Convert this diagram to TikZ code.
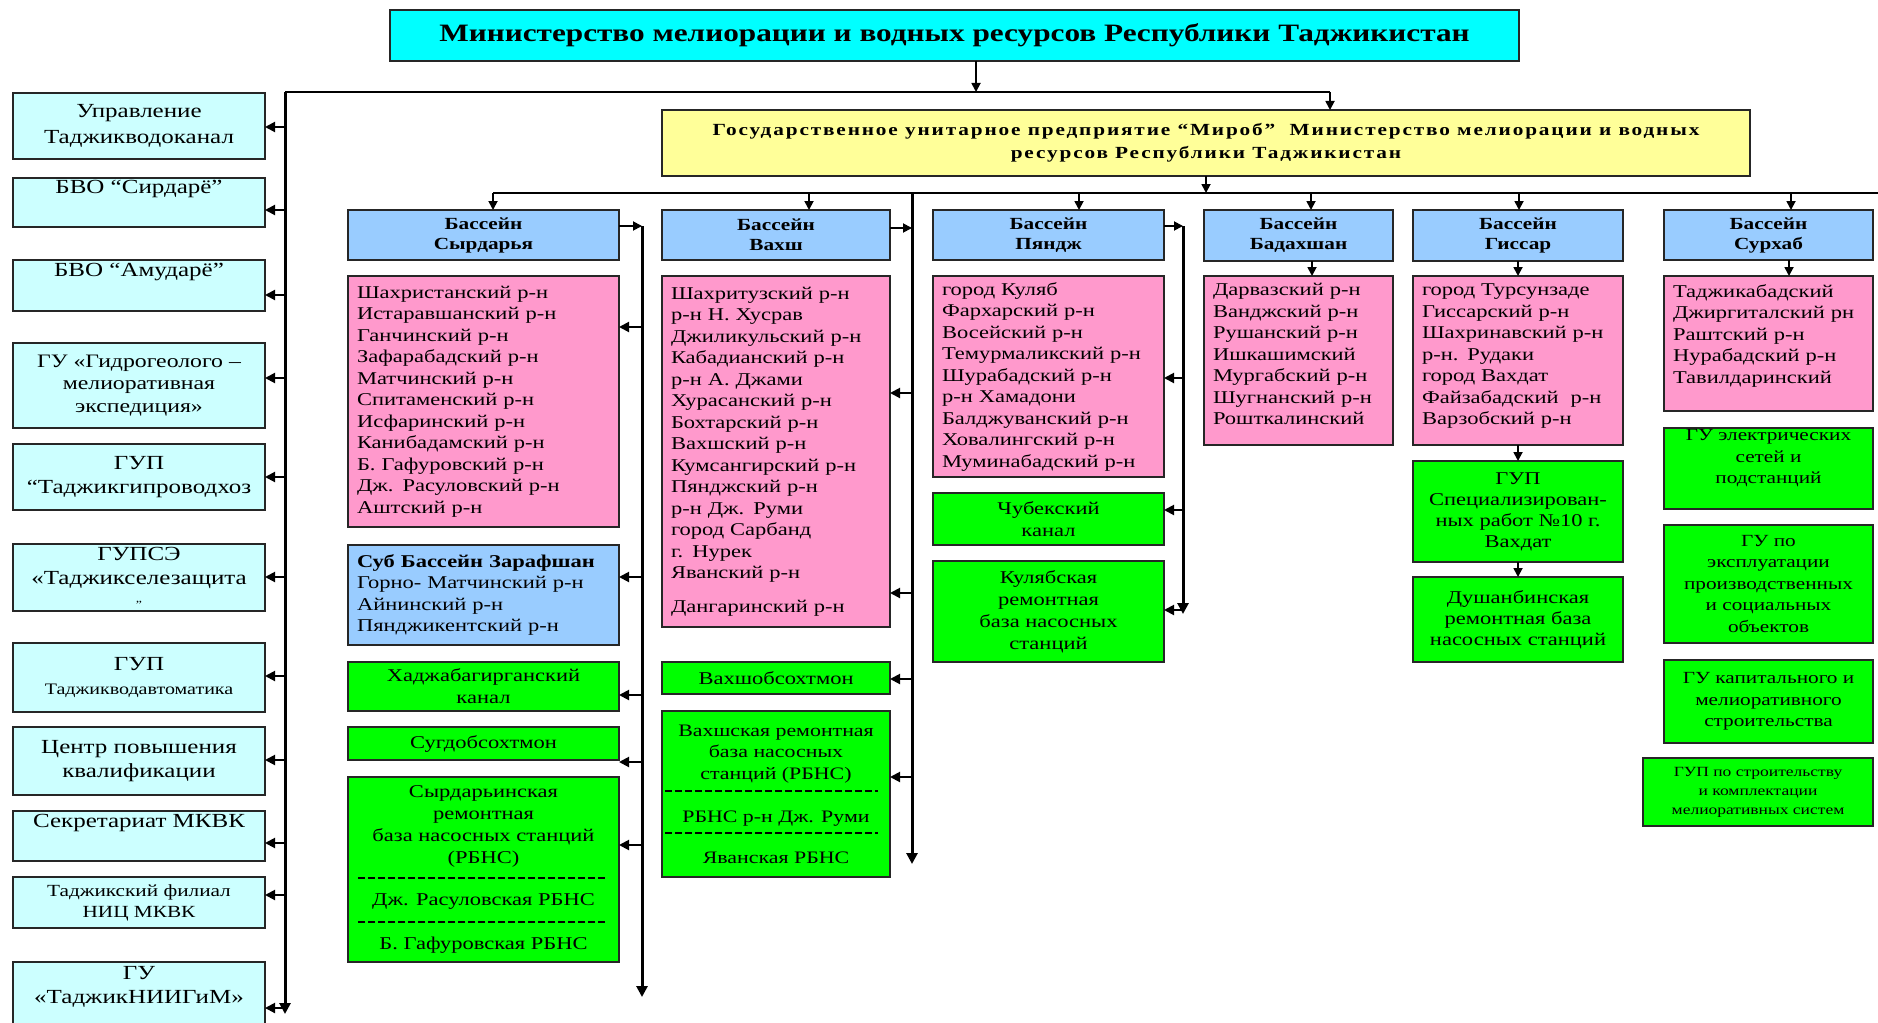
\documentclass[tikz,border=0pt]{standalone}
\usepackage{fontspec}
\setmainfont{Liberation Serif}[FakeStretch=1.25]
\usetikzlibrary{arrows.meta}
\definecolor{titlecyan}{HTML}{00FFFF}
\definecolor{lcyan}{HTML}{CCFFFF}
\definecolor{yelb}{HTML}{FFFF99}
\definecolor{bblue}{HTML}{99CCFF}
\definecolor{pinkb}{HTML}{FF99CC}
\definecolor{greenb}{HTML}{00FF00}
\newcommand\fsz[2]{\fontsize{#1}{#2}\selectfont}
\newcommand\bx[7]{%
  \pgfmathsetmacro\BXw{#5-#3}\pgfmathsetmacro\BXh{#6-#4}%
  \pgfmathsetmacro\BXt{#5-#3-18}%
  \pgfmathsetmacro\BXx{(#3+#5)/2}\pgfmathsetmacro\BXy{(#4+#6)/2}%
  \node[#2, minimum width=\BXw pt, minimum height=\BXh pt] (#1) at (\BXx,\BXy) {#7};}
\tikzset{
  boxb/.style={draw=black!85, line width=1.6pt, inner sep=0pt, outer sep=0pt},
  titlebox/.style={boxb, fill=titlecyan, font=\bfseries\fsz{25}{29}},
  ybox/.style={boxb, fill=yelb, align=center, font=\bfseries\fsz{17}{23}\addfontfeatures{LetterSpace=11}},
  lbox/.style={boxb, fill=lcyan, align=center, font=\fsz{20}{24}},
  basin/.style={boxb, fill=bblue, align=center, font=\bfseries\fsz{17}{20}},
  plist/.style={boxb, fill=pinkb, align=left, text width=\BXt pt, font=\fsz{18}{21.5}},
  sublist/.style={plist, fill=bblue},
  gbox/.style={boxb, fill=greenb, align=center, font=\fsz{18}{22}},
  arr/.style={line width=1.8pt, -{Triangle[length=9pt,width=9pt]}},
  tap/.style={line width=2pt, -{Triangle[length=10pt,width=10pt]}},
  busa/.style={line width=3pt, -{Triangle[length=11pt,width=11pt]}},
  thinbus/.style={line width=2pt},
  sepl/.style={line width=1.2pt, dash pattern=on 7pt off 3pt}
}
\begin{document}
\begin{tikzpicture}[x=1pt, y=-1pt]
\useasboundingbox[fill=white] (0,0) rectangle (1878,1022);

% top level
\bx{min}{titlebox}{390}{10}{1519}{61}{Министерство мелиорации и водных ресурсов Республики Таджикистан}
\bx{gup}{ybox}{662}{110}{1750}{176}{Государственное унитарное предприятие “Мироб”~ Министерство мелиорации и водных\\ресурсов Республики Таджикистан}

% left column
\bx{L1}{lbox, font=\fsz{20}{26}}{13}{93}{265}{159}{Управление\\Таджикводоканал}
\bx{L2}{lbox}{13}{178}{265}{227}{БВО “Сирдарё”\\\strut}
\bx{L3}{lbox}{13}{260}{265}{311}{БВО “Амударё”\\\strut}
\bx{L4}{lbox, font=\fsz{19}{22.5}}{13}{343}{265}{428}{ГУ «Гидрогеолого –\\мелиоративная\\экспедиция»}
\bx{L5}{lbox}{13}{444}{265}{510}{ГУП\\“Таджикгипроводхоз}
\bx{L6}{lbox}{13}{544}{265}{611}{ГУПСЭ\\«Таджикселезащита\\{\fsz{11}{11}”}}
\bx{L7}{lbox}{13}{643}{265}{712}{ГУП\\{\fsz{16}{20}Таджикводавтоматика}}
\bx{L8}{lbox}{13}{727}{265}{795}{Центр повышения\\квалификации}
\bx{L9}{lbox}{13}{811}{265}{861}{Секретариат МКВК\\\strut}
\bx{L10}{lbox, font=\fsz{17}{21}}{13}{877}{265}{928}{Таджикский филиал\\НИЦ МКВК}
\bx{L11}{lbox}{13}{962}{265}{1040}{ГУ\\«ТаджикНИИГиМ»\\\strut}

% basins
\bx{B1}{basin}{348}{210}{619}{260}{Бассейн\\Сырдарья}
\bx{B2}{basin}{662}{210}{890}{260}{Бассейн\\Вахш}
\bx{B3}{basin}{933}{210}{1164}{260}{Бассейн\\Пяндж}
\bx{B4}{basin}{1204}{210}{1393}{261}{Бассейн\\Бадахшан}
\bx{B5}{basin}{1413}{210}{1623}{261}{Бассейн\\Гиссар}
\bx{B6}{basin}{1664}{210}{1873}{260}{Бассейн\\Сурхаб}

% district lists
\bx{P1}{plist}{348}{276}{619}{527}{Шахристанский р-н\\Истаравшанский р-н\\Ганчинский р-н\\Зафарабадский р-н\\Матчинский р-н\\Спитаменский р-н\\Исфаринский р-н\\Канибадамский р-н\\Б. Гафуровский р-н\\Дж. Расуловский р-н\\Аштский р-н}
\bx{P2}{plist}{662}{276}{890}{627}{Шахритузский р-н\\р-н Н. Хусрав\\Джиликульский р-н\\Кабадианский р-н\\р-н А. Джами\\Хурасанский р-н\\Бохтарский р-н\\Вахшский р-н\\Кумсангирский р-н\\Пянджский р-н\\р-н Дж. Руми\\город Сарбанд\\г. Нурек\\Яванский р-н\\[12pt]Дангаринский р-н}
\bx{P3}{plist}{933}{276}{1164}{477}{город Куляб\\Фархарский р-н\\Восейский р-н\\Темурмаликский р-н\\Шурабадский р-н\\р-н Хамадони\\Балджуванский р-н\\Ховалингский р-н\\Муминабадский р-н}
\bx{P4}{plist}{1204}{276}{1393}{445}{Дарвазский р-н\\Ванджский р-н\\Рушанский р-н\\Ишкашимский\\Мургабский р-н\\Шугнанский р-н\\Рошткалинский\\[-15.5pt]\strut}
\bx{P5}{plist}{1413}{276}{1623}{445}{город Турсунзаде\\Гиссарский р-н\\Шахринавский р-н\\р-н. Рудаки\\город Вахдат\\Файзабадский~ р-н\\Варзобский р-н\\[-15.5pt]\strut}
\bx{P6}{plist}{1664}{276}{1873}{411}{Таджикабадский\\Джиргиталский рн\\Раштский р-н\\Нурабадский р-н\\Тавилдаринский\\[-8.5pt]\strut}
\bx{S1}{sublist}{348}{545}{619}{645}{\textbf{Суб Бассейн Зарафшан}\\Горно- Матчинский р-н\\Айнинский р-н\\Пянджикентский р-н}

% green units
\bx{G1}{gbox}{348}{662}{619}{711}{Хаджабагирганский\\канал}
\bx{G2}{gbox}{348}{727}{619}{760}{Сугдобсохтмон}
\bx{G3}{gbox}{348}{777}{619}{962}{Сырдарьинская\\ремонтная\\база насосных станций\\(РБНС)\\[20pt]Дж. Расуловская РБНС\\[22pt]Б. Гафуровская РБНС}
\bx{G4}{gbox}{662}{662}{890}{694}{Вахшобсохтмон}
\bx{G5}{gbox, font=\fsz{17.5}{21.5}}{662}{711}{890}{877}{Вахшская ремонтная\\база насосных\\станций (РБНС)\\[22pt]РБНС р-н Дж. Руми\\[19pt]Яванская РБНС}
\bx{G6}{gbox}{933}{493}{1164}{545}{Чубекский\\канал}
\bx{G7}{gbox}{933}{561}{1164}{662}{Кулябская\\ремонтная\\база насосных\\станций}
\bx{G8}{gbox, font=\fsz{18}{21}}{1413}{461}{1623}{562}{ГУП\\Специализирован-\\ных работ №10 г.\\Вахдат}
\bx{G9}{gbox, font=\fsz{18}{21}}{1413}{577}{1623}{662}{Душанбинская\\ремонтная база\\насосных станций}
\bx{G10}{gbox, font=\fsz{17}{21.5}}{1664}{428}{1873}{509}{ГУ электрических\\сетей и\\подстанций\\[-4pt]\strut}
\bx{G11}{gbox, font=\fsz{17}{21.5}}{1664}{525}{1873}{643}{ГУ по\\эксплуатации\\производственных\\и социальных\\объектов}
\bx{G12}{gbox, font=\fsz{17}{21.5}}{1664}{660}{1873}{743}{ГУ капитального и\\мелиоративного\\строительства}
\bx{G13}{gbox, font=\fsz{14}{19}}{1643}{758}{1873}{826}{ГУП по строительству\\и комплектации\\мелиоративных систем}

% separators inside repair-base boxes
\coordinate (s3a) at (358,878); \coordinate (s3b) at (605,878);
\coordinate (s3c) at (358,922); \coordinate (s3d) at (605,922);
\draw[sepl] (s3a) -- (s3b); \draw[sepl] (s3c) -- (s3d);
\coordinate (s5a) at (665,791); \coordinate (s5b) at (878,791);
\coordinate (s5c) at (665,833); \coordinate (s5d) at (878,833);
\draw[sepl] (s5a) -- (s5b); \draw[sepl] (s5c) -- (s5d);

% top connectors
\coordinate (t0) at (285,92);
\coordinate (m1) at (976,92);
\coordinate (t2) at (1330,92);
\draw[thinbus] (t0) -- (t2);
\draw[arr] (min.south -| m1) -- (m1);
\draw[arr] (t2) -- (gup.north -| t2);

% left bus
\coordinate (lbend) at (285,1014);
\draw[busa] (t0) -- (lbend);
\foreach \n/\yy in {1/127, 2/210, 3/295, 4/378, 5/477, 6/577, 7/676, 8/760, 9/843, 10/895, 11/1008}{
  \coordinate (lt\n) at (285,\yy);
  \draw[tap] (lt\n) -- (L\n.east |- lt\n);
}

% second-level bus
\coordinate (h2L) at (493,193);
\coordinate (h2R) at (1878,193);
\draw[thinbus] (h2L) -- (h2R);
\draw[arr] (gup.south) -- (gup.south |- h2L);
\foreach \n/\xx in {1/493, 2/809, 3/1079, 4/1311, 5/1519, 6/1791}{
  \coordinate (d\n) at (\xx,193);
  \draw[arr] (d\n) -- (B\n.north -| d\n);
}

% Syrdarya bus
\coordinate (s0) at (642,226);
\coordinate (s1) at (642,997);
\draw[arr] (B1.east |- s0) -- (s0);
\draw[busa] (s0) -- (s1);
\foreach \t/\yy in {P1/327, S1/577, G1/695, G2/762, G3/845}{
  \coordinate (st\t) at (642,\yy);
  \draw[tap] (st\t) -- (\t.east |- st\t);
}

% Vakhsh bus
\coordinate (v0) at (912,193);
\coordinate (vb) at (912,228);
\coordinate (v1) at (912,864);
\draw[arr] (B2.east |- vb) -- (vb);
\draw[busa] (v0) -- (v1);
\foreach \k/\t/\yy in {a/P2/393, b/P2/593, c/G4/679, d/G5/777}{
  \coordinate (vt\k) at (912,\yy);
  \draw[tap] (vt\k) -- (\t.east |- vt\k);
}

% Pyandzh bus
\coordinate (p0) at (1183,226);
\coordinate (p1) at (1183,614);
\draw[arr] (B3.east |- p0) -- (p0);
\draw[busa] (p0) -- (p1);
\foreach \t/\yy in {P3/378, G6/510, G7/610}{
  \coordinate (pt\t) at (1183,\yy);
  \draw[tap] (pt\t) -- (\t.east |- pt\t);
}

% Badakhshan, Gissar, Surkhab
\coordinate (bdx) at (1312,262);
\draw[arr] (B4.south -| bdx) -- (P4.north -| bdx);
\draw[arr] (B5.south) -- (P5.north);
\draw[arr] (P5.south) -- (G8.north);
\draw[arr] (G8.south) -- (G9.north);
\coordinate (srx) at (1789,262);
\draw[arr] (B6.south -| srx) -- (P6.north -| srx);
\end{tikzpicture}
\end{document}
